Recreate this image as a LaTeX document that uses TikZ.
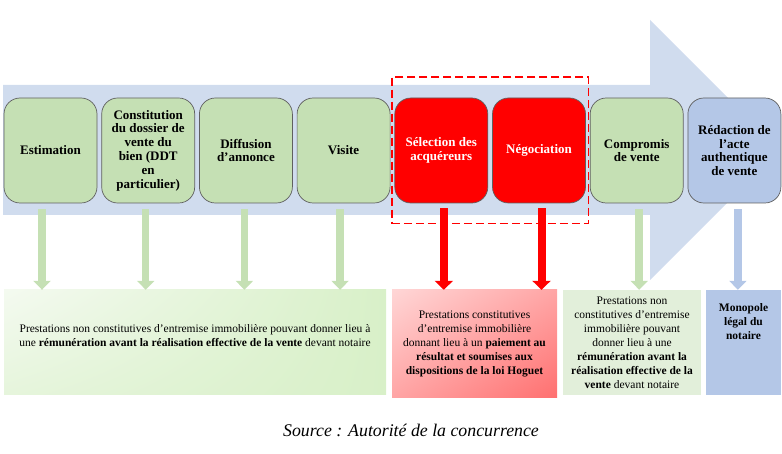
\documentclass[tikz,border=0pt]{standalone}
\usepackage{fontspec}
\setmainfont{Liberation Serif}
\usetikzlibrary{positioning,fit,arrows.meta,shadings}
\definecolor{bandblue}{RGB}{208,220,238}
\definecolor{stepgreen}{RGB}{197,224,180}
\definecolor{stepblue}{RGB}{180,199,231}
\definecolor{stepred}{RGB}{255,0,0}
\definecolor{boxgray}{RGB}{96,96,96}
\definecolor{palegreen}{RGB}{226,239,218}
\definecolor{gshadeA}{RGB}{244,250,240}
\definecolor{gshadeB}{RGB}{230,245,220}
\definecolor{gshadeC}{RGB}{216,240,200}
\definecolor{rshadeA}{RGB}{255,214,214}
\definecolor{rshadeB}{RGB}{255,165,165}
\definecolor{rshadeC}{RGB}{255,112,112}
\tikzset{
  stepbox/.style={draw=boxgray, line width=0.7pt, rounded corners=16pt,
    fill=stepgreen, minimum width=93pt, minimum height=105pt, inner sep=1pt,
    align=center, font=\fontsize{13}{13.8}\selectfont\bfseries},
  redstep/.style={stepbox, fill=stepred, text=white},
  bluestep/.style={stepbox, fill=stepblue},
  infobox/.style={inner sep=0pt, align=center,
    font=\fontsize{11.5}{14}\selectfont},
  hoguetframe/.style={draw, color=stepred, line width=1.3pt,
    dash pattern=on 8pt off 4pt},
  greenarrow/.style={draw=stepgreen, line width=7.5pt,
    -{Triangle[width=17pt,length=9pt]}},
  bluearrow/.style={greenarrow, draw=stepblue},
  redarrow/.style={draw=stepred, line width=8pt,
    -{Triangle[width=18pt,length=9pt]}}
}
\begin{document}
\begin{tikzpicture}[x=1pt,y=-1pt]
  \useasboundingbox (0,0) rectangle (782,454);
  %Big arrow behind the steps
  \fill[bandblue] (3,85) -- (650,85) -- (650,20) -- (780,150)
    -- (650,280) -- (650,215) -- (3,215) -- cycle;

  %Steps of the sale
  \node[stepbox] (est) at (50.5,150.5) {Estimation};
  \node[stepbox, right=4pt of est] (dos) {Constitution\\du dossier de\\vente du\\bien (DDT\\en\\particulier)};
  \node[stepbox, right=4pt of dos] (dif) {Diffusion\\d’annonce};
  \node[stepbox, right=4pt of dif] (vis) {Visite};
  \node[redstep, right=4pt of vis] (sel) {Sélection des\\acquéreurs};
  \node[redstep, right=4pt of sel] (neg) {Négociation};
  \node[stepbox, right=4pt of neg] (com) {Compromis\\de vente};
  \node[bluestep, right=4pt of com] (acte) {Rédaction de\\l’acte\\authentique\\de vente};

  %Mark the Hoguet steps
  \node[hoguetframe, inner xsep=2.5pt, inner ysep=20.5pt, fit=(sel)(neg)] (grp) {};

  %Kind of services
  \node[minimum width=382pt, minimum height=104pt,
    upper left=gshadeA, upper right=gshadeC,
    lower left=gshadeB, lower right=gshadeC] (bas1) at (195,342) {};
  \node[infobox] (txt1) at ([yshift=6pt]bas1.center)
    {Prestations non constitutives d’entremise immobilière pouvant donner lieu à\\
    une \textbf{rémunération avant la réalisation effective de la vente} devant notaire};
  \node[infobox, minimum width=165pt, minimum height=107pt,
    upper left=rshadeA, upper right=rshadeB,
    lower left=rshadeB, lower right=rshadeC]
    (basR) at (474.5,343.5) {Prestations constitutives\\d’entremise immobilière\\
    donnant lieu à un \textbf{paiement au}\\\textbf{résultat et soumises aux}\\
    \textbf{dispositions de la loi Hoguet}};
  \node[infobox, fill=palegreen, minimum width=138pt, minimum height=105pt]
    (bas2) at (632,342.5) {Prestations non\\constitutives d’entremise\\immobilière pouvant\\
    donner lieu à une\\\textbf{rémunération avant la}\\\textbf{réalisation effective de la}\\
    \textbf{vente} devant notaire};
  \node[fill=stepblue, minimum width=75pt, minimum height=105pt] (basB) at (743.5,342.5) {};
  \node[infobox, font=\fontsize{11.5}{14}\selectfont\bfseries, below=14pt of basB.north]
    (mono) {Monopole\\légal du\\notaire};

  %Arrows down to the services
  \foreach \n/\dx in {est/-8.5,dos/-2.5,dif/-1.5,vis/-3.5}
    \draw[greenarrow] ([xshift=\dx pt,yshift=-6pt]\n.south) -- ([xshift=\dx pt]\n.south |- bas1.north);
  \foreach \n/\dx in {sel/2.5,neg/2.5}
    \draw[redarrow] ([xshift=\dx pt,yshift=-5pt]\n.south) -- ([xshift=\dx pt]\n.south |- basR.north);
  \draw[greenarrow] ([xshift=2.5pt,yshift=-6pt]com.south) -- ([xshift=2.5pt]com.south |- bas2.north);
  \draw[bluearrow] ([xshift=3.5pt,yshift=-6pt]acte.south) -- ([xshift=3.5pt]acte.south |- basB.north);

  %Source
  \node[font=\fontsize{17.8}{20}\selectfont\itshape] (src) at (411,430) {Source : Autorité de la concurrence};
\end{tikzpicture}
\end{document}
